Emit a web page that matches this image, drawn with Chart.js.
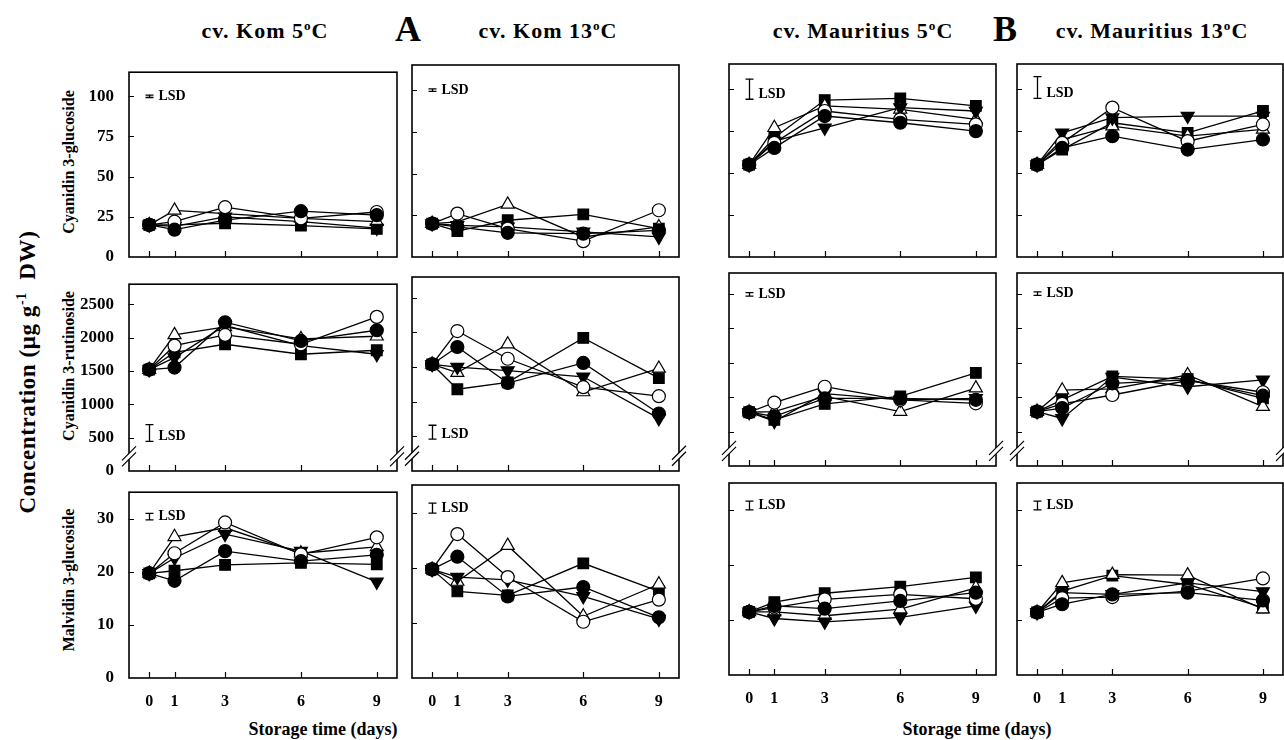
<!DOCTYPE html>
<html>
<head>
<meta charset="utf-8">
<script src="https://cdn.jsdelivr.net/npm/chart.js@4.4.0/dist/chart.umd.min.js"></script>
<style>
  body { margin: 0; background: #fff; }
  #page { position: relative; width: 1284px; height: 740px; overflow: hidden; background: #fff; }
  canvas { position: absolute; }
  .t { position: absolute; transform: translate(-50%, -50%); white-space: nowrap;
       font-family: "Liberation Serif", "DejaVu Serif", serif; font-weight: bold; color: #000; }
  .rot { transform: translate(-50%, -50%) rotate(-90deg); }
  .t sup { font-size: 0.6em; vertical-align: super; line-height: 0; }
  .ttl { font-size: 22px; letter-spacing: 1px; }
</style>
</head>
<body>
<div id="page">
  <div class="t ttl" style="left:265px;top:31px">cv. Kom 5<sup>o</sup>C</div>
  <div class="t" style="left:408px;top:29px;font-size:36px">A</div>
  <div class="t ttl" style="left:548px;top:31px">cv. Kom 13<sup>o</sup>C</div>
  <div class="t ttl" style="left:863px;top:31px">cv. Mauritius 5<sup>o</sup>C</div>
  <div class="t" style="left:1005px;top:29px;font-size:36px">B</div>
  <div class="t ttl" style="left:1152px;top:31px">cv. Mauritius 13<sup>o</sup>C</div>

  <div class="t rot" style="left:28px;top:372px;font-size:23px;letter-spacing:0.6px">Concentration (μg g<sup>-1</sup>&nbsp; DW)</div>
  <div class="t rot" style="left:69px;top:162px;font-size:16px">Cyanidin 3-glucoside</div>
  <div class="t rot" style="left:69px;top:366px;font-size:16px">Cyanidin 3-rutinoside</div>
  <div class="t rot" style="left:69px;top:580px;font-size:16px">Malvidin 3-glucoside</div>

  <div class="t" style="left:323px;top:729px;font-size:18px">Storage time (days)</div>
  <div class="t" style="left:977px;top:729px;font-size:18px">Storage time (days)</div>
</div>
<script>
const days = [0, 1, 3, 6, 9];

// series order in every panel: filled circle, open circle, filled down-triangle, open up-triangle, filled square

// Cyanidin 3-glucoside
const c3gKom5 = [
  [20, 17, 23, 28.5, 26],
  [20, 22, 31, 24, 28],
  [20, 19, 25, 22, 18],
  [20, 29, 27, 24, 22],
  [20, 20, 21, 19.5, 17.5],
];
const c3gKom13 = [
  [20, 18, 14.5, 14, 16],
  [20, 26, 17, 9.5, 28],
  [20, 19, 18, 15, 12],
  [20, 21, 31.5, 12, 18],
  [20, 15.5, 22, 25.5, 17],
];
const c3gMau5 = [
  [55, 65, 84, 80, 75],
  [55, 68, 87, 82, 79],
  [55, 69, 77, 89, 87],
  [55, 77, 90, 88, 82],
  [55, 71, 93.5, 94.5, 90],
];
const c3gMau13 = [
  [55, 65, 72, 64, 70],
  [55, 68, 89, 69, 79],
  [55, 74, 83, 84, 84],
  [55, 70, 78, 72, 76],
  [55, 64, 80, 74, 87],
];

// Cyanidin 3-rutinoside
const c3rKom5 = [
  [1520, 1550, 2230, 1950, 2110],
  [1520, 1880, 2040, 1900, 2310],
  [1520, 1700, 2180, 1880, 1750],
  [1520, 2040, 2160, 1980, 2020],
  [1520, 1780, 1900, 1750, 1810],
];
const c3rKom13 = [
  [1540, 1790, 1270, 1560, 830],
  [1540, 2020, 1620, 1210, 1080],
  [1540, 1500, 1450, 1360, 760],
  [1540, 1420, 1830, 1140, 1480],
  [1540, 1180, 1280, 1920, 1340],
];
const c3rMau5 = [
  [780, 720, 980, 980, 960],
  [780, 920, 1150, 960, 910],
  [780, 650, 1050, 960, 980],
  [780, 790, 1010, 790, 1130],
  [780, 670, 900, 1010, 1350],
];
const c3rMau13 = [
  [790, 840, 1200, 1250, 1020],
  [790, 900, 1030, 1240, 1070],
  [790, 690, 1290, 1150, 1250],
  [790, 1100, 1120, 1320, 860],
  [790, 960, 1300, 1260, 980],
];

// Malvidin 3-glucoside
const mgKom5 = [
  [19.7, 18.3, 23.9, 22, 23.2],
  [19.7, 23.5, 29.3, 23.3, 26.5],
  [19.7, 22.6, 27.1, 23.9, 18.1],
  [19.7, 26.6, 28.3, 23.5, 24.7],
  [19.7, 20.2, 21.3, 21.7, 21.4],
];
const mgKom13 = [
  [19.7, 22, 14.8, 16.5, 11],
  [19.7, 26.1, 18.3, 10.2, 14.2],
  [19.7, 18.3, 17.8, 14.8, 10.7],
  [19.7, 17.5, 24, 11.2, 17],
  [19.7, 15.7, 15, 20.8, 15.7],
];
const mgMau5 = [
  [11.5, 12.6, 12.1, 13.5, 15],
  [11.5, 12.3, 13.8, 14.7, 13.9],
  [11.5, 10.3, 9.7, 10.5, 12.6],
  [11.5, 11.5, 10.8, 12, 15.9],
  [11.5, 13.3, 14.9, 16.1, 17.8],
];
const mgMau13 = [
  [11.4, 12.9, 14.7, 15, 13.6],
  [11.4, 14, 14.2, 15.3, 17.6],
  [11.4, 15, 14.7, 16.8, 15.2],
  [11.4, 16.8, 18.3, 18.2, 12],
  [11.4, 15.3, 18.1, 16.5, 12.3],
];

const c3gTicks = [0, 25, 50, 75, 100];
const c3rTicks = [0, 500, 1000, 1500, 2000, 2500];
const mgTicks = [0, 10, 20, 30];

// LSD bar lengths, per column
const lsdC3G = [1.5, 1.5, 12, 13];
const lsdC3R = [250, 200, 50, 50];
const lsdMG = [1.2, 1.8, 1.6, 1.6];

// marker look for the five series
const markers = [
  { style: "circle", fill: "#000", radius: 6.5, rot: 0 },
  { style: "circle", fill: "#fff", radius: 6.5, rot: 0 },
  { style: "triangle", fill: "#000", radius: 7.5, rot: 180 },
  { style: "triangle", fill: "#fff", radius: 7.5, rot: 0 },
  { style: "rect", fill: "#000", radius: 7.5, rot: 0 },
];

const serif = "'Liberation Serif', 'DejaVu Serif', serif";

// panel boxes (plot area edges in page pixels)
const colBoxes = [[129, 397], [412, 679], [729, 996], [1017, 1283]];
const rowBoxesA = [[65, 257], [277, 471], [485, 678]];
const rowBoxesB = [[64, 257], [273, 466], [483, 675]];

const rows = [
  { panels: [c3gKom5, c3gKom13, c3gMau5, c3gMau13], ticks: c3gTicks, max: 115, lsd: lsdC3G,
    lsdCenter: [100, 100, 100, 101], breakAt: null },
  { panels: [c3rKom5, c3rKom13, c3rMau5, c3rMau13], ticks: c3rTicks, max: 2800, lsd: lsdC3R,
    lsdCenter: [570, 560, 2490, 2500], breakAt: 220 },
  { panels: [mgKom5, mgKom13, mgMau5, mgMau13], ticks: mgTicks, max: 35, lsd: lsdMG,
    lsdCenter: [30.4, 30.8, 30.9, 30.9], breakAt: null },
];

// box, inside ticks, axis breaks and LSD bar
const framePlugin = {
  id: "frame",
  afterDatasetsDraw(chart, args, opts) {
    const { ctx, chartArea: a } = chart;
    const x = chart.scales.x, y = chart.scales.y;
    ctx.save();
    ctx.strokeStyle = "#000";
    ctx.lineWidth = 1.6;
    ctx.strokeRect(a.left, a.top, a.right - a.left, a.bottom - a.top);

    ctx.lineWidth = 1.2;
    ctx.beginPath();
    opts.yTicks.forEach((v) => {
      if (v <= y.min) return;
      const py = Math.round(y.getPixelForValue(v)) + 0.5;
      ctx.moveTo(a.left, py);
      ctx.lineTo(a.left + 5, py);
    });
    days.forEach((d) => {
      const px = Math.round(x.getPixelForValue(d)) + 0.5;
      ctx.moveTo(px, a.bottom);
      ctx.lineTo(px, a.bottom - 6);
    });
    ctx.stroke();

    if (opts.breakAt != null) {
      const by = y.getPixelForValue(opts.breakAt);
      [a.left, a.right].forEach((ex) => {
        ctx.fillStyle = "#fff";
        ctx.beginPath();
        ctx.moveTo(ex - 7, by + 4);
        ctx.lineTo(ex + 7, by - 10);
        ctx.lineTo(ex + 7, by - 4);
        ctx.lineTo(ex - 7, by + 10);
        ctx.closePath();
        ctx.fill();
        ctx.beginPath();
        ctx.moveTo(ex - 7, by + 4);
        ctx.lineTo(ex + 7, by - 10);
        ctx.moveTo(ex - 7, by + 10);
        ctx.lineTo(ex + 7, by - 4);
        ctx.stroke();
      });
    }

    const lx = Math.round(x.getPixelForValue(0)) + 0.5;
    const yt = y.getPixelForValue(opts.lsdCenter + opts.lsd / 2);
    const yb = y.getPixelForValue(opts.lsdCenter - opts.lsd / 2);
    ctx.lineWidth = 1.3;
    ctx.beginPath();
    ctx.moveTo(lx, yt); ctx.lineTo(lx, yb);
    ctx.moveTo(lx - 4, yt); ctx.lineTo(lx + 4, yt);
    ctx.moveTo(lx - 4, yb); ctx.lineTo(lx + 4, yb);
    ctx.stroke();
    ctx.fillStyle = "#000";
    ctx.font = "bold 14px " + serif;
    ctx.textAlign = "left";
    ctx.textBaseline = "middle";
    ctx.fillText("LSD", lx + 9, Math.max((yt + yb) / 2, yb - 5));
    ctx.restore();
  },
};

const page = document.getElementById("page");

function makePanel(row, rowIdx, colIdx) {
  const [left, right] = colBoxes[colIdx];
  const [top, bottom] = (colIdx < 2 ? rowBoxesA : rowBoxesB)[rowIdx];
  const padL = 60, padR = 12, padT = 10, padB = 40;
  const w = right - left + padL + padR;
  const h = bottom - top + padT + padB;

  const canvas = document.createElement("canvas");
  canvas.width = w;
  canvas.height = h;
  canvas.style.left = left - padL + "px";
  canvas.style.top = top - padT + "px";
  canvas.style.width = w + "px";
  canvas.style.height = h + "px";
  page.appendChild(canvas);

  const showY = colIdx === 0;
  const showX = rowIdx === 2;

  const datasets = row.panels[colIdx].map((vals, i) => {
    const m = markers[i];
    return {
      data: days.map((d, j) => ({ x: d, y: vals[j] })),
      borderColor: "#000",
      borderWidth: 1.3,
      pointStyle: m.style,
      pointRadius: m.radius,
      pointRotation: m.rot,
      pointBackgroundColor: m.fill,
      pointBorderColor: "#000",
      pointBorderWidth: 1.2,
      tension: 0,
      clip: false,
    };
  });

  new Chart(canvas, {
    type: "line",
    data: { datasets },
    options: {
      responsive: false,
      animation: false,
      devicePixelRatio: 1,
      layout: { padding: { top: padT, right: padR, left: 0, bottom: 0 } },
      plugins: {
        legend: { display: false },
        tooltip: { enabled: false },
        frame: {
          yTicks: row.ticks,
          breakAt: row.breakAt,
          lsd: row.lsd[colIdx],
          lsdCenter: row.lsdCenter[colIdx],
        },
      },
      scales: {
        x: {
          type: "linear",
          min: -0.8,
          max: 9.8,
          afterBuildTicks(s) { s.ticks = days.map((v) => ({ value: v })); },
          afterFit(s) { s.height = padB; },
          grid: { display: false },
          border: { display: false },
          ticks: {
            display: showX,
            autoSkip: false,
            maxRotation: 0,
            padding: 6,
            color: "#000",
            font: { family: serif, weight: "bold", size: 16 },
            callback: (v) => String(v),
          },
        },
        y: {
          type: "linear",
          min: 0,
          max: row.max,
          afterBuildTicks(s) { s.ticks = row.ticks.map((v) => ({ value: v })); },
          afterFit(s) { s.width = padL; },
          grid: { display: false },
          border: { display: false },
          ticks: {
            display: showY,
            autoSkip: false,
            padding: 7,
            color: "#000",
            font: { family: serif, weight: "bold", size: 17 },
            callback: (v) => String(v),
          },
        },
      },
    },
    plugins: [framePlugin],
  });
}

rows.forEach((row, r) => {
  for (let c = 0; c < 4; c++) makePanel(row, r, c);
});
</script>
</body>
</html>
